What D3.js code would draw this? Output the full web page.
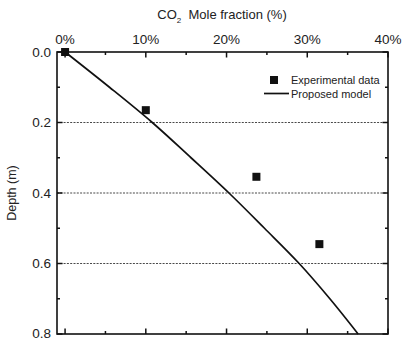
<!DOCTYPE html>
<html><head><meta charset="utf-8">
<script src="https://cdn.jsdelivr.net/npm/d3@7"></script>
<style>body{margin:0;background:#fff}svg{display:block;font-family:Arial,"Liberation Sans",sans-serif}</style>
</head><body><svg id="c" width="402" height="340"></svg>
<script>
const expFraction = [0, 10, 23.7, 31.5];
const expDepth = [0, 0.165, 0.354, 0.545];
const modelDepth = [0, 0.1, 0.2, 0.3, 0.4, 0.5, 0.6, 0.7, 0.8];
const modelFraction = [0, 5.5, 10.8, 15.6, 20.3, 24.7, 29.0, 32.8, 36.3];
const xTicks = [0, 10, 20, 30, 40];
const xMinor = [5, 15, 25, 35];
const yTicks = [0, 0.2, 0.4, 0.6, 0.8];
const yMinor = [0.1, 0.3, 0.5, 0.7];
const gridDepths = [0.2, 0.4, 0.6];

const svg = d3.select("#c");
const L = 57, R = 388, T = 52, B = 334;
const x = d3.scaleLinear().domain([-1, 40]).range([L, R]);
const y = d3.scaleLinear().domain([0, 0.8]).range([T, B]);

// grid
svg.selectAll(".grid").data(gridDepths).enter().append("line")
  .attr("x1", L).attr("x2", R).attr("y1", d => y(d)).attr("y2", d => y(d))
  .attr("stroke", "#333").attr("stroke-width", 0.9).attr("stroke-dasharray", "2,1.3");

function tickLines(vals, len, orient) {
  vals.forEach(v => {
    let l;
    if (orient === "top") l = [x(v), T, x(v), T + len];
    else if (orient === "bottom") l = [x(v), B, x(v), B - len];
    else if (orient === "left") l = [L, y(v), L + len, y(v)];
    else l = [R, y(v), R - len, y(v)];
    svg.append("line").attr("x1", l[0]).attr("y1", l[1]).attr("x2", l[2]).attr("y2", l[3])
      .attr("stroke", "#111").attr("stroke-width", 1.5);
  });
}
tickLines(xTicks, 5.5, "top"); tickLines(xMinor, 3, "top");
tickLines(xTicks, 5.5, "bottom"); tickLines(xMinor, 3, "bottom");
tickLines(yTicks, 5.5, "left"); tickLines(yMinor, 3, "left");
tickLines(yTicks, 5.5, "right"); tickLines(yMinor, 3, "right");

svg.append("rect").attr("x", L).attr("y", T).attr("width", R - L).attr("height", B - T)
  .attr("fill", "none").attr("stroke", "#111").attr("stroke-width", 1.6);

// tick labels
svg.selectAll(".xl").data(xTicks).enter().append("text")
  .attr("x", d => x(d)).attr("y", 44).attr("text-anchor", "middle")
  .attr("font-size", 13.5).attr("fill", "#222").text(d => d + "%");
svg.selectAll(".yl").data(yTicks).enter().append("text")
  .attr("x", 51).attr("y", d => Math.min(y(d) + 4.7, 337.5)).attr("text-anchor", "end")
  .attr("font-size", 13.5).attr("fill", "#222").text(d => d.toFixed(1));

// axis titles
const t = svg.append("text").attr("x", 222).attr("y", 19).attr("text-anchor", "middle")
  .attr("font-size", 13).attr("fill", "#222");
t.append("tspan").text("CO");
t.append("tspan").attr("font-size", 8).attr("dy", 4).text("2");
t.append("tspan").attr("dy", -4).text("  Mole fraction (%)").attr("xml:space", "preserve");
svg.append("text").attr("transform", `translate(16,${(T + B) / 2}) rotate(-90)`)
  .attr("text-anchor", "middle").attr("font-size", 12.5).attr("fill", "#222").text("Depth (m)");

// model line
const line = d3.line().x((d, i) => x(modelFraction[i])).y(d => y(d)).curve(d3.curveMonotoneY);
svg.append("path").datum(modelDepth).attr("d", line).attr("fill", "none")
  .attr("stroke", "#111").attr("stroke-width", 1.7);

// experimental points
const s = 8;
svg.selectAll(".pt").data(expDepth).enter().append("rect")
  .attr("x", (d, i) => x(expFraction[i]) - s / 2).attr("y", d => y(d) - s / 2)
  .attr("width", s).attr("height", s).attr("fill", "#111");

// legend
svg.append("rect").attr("x", 270).attr("y", 76).attr("width", s).attr("height", s).attr("fill", "#111");
svg.append("text").attr("x", 291).attr("y", 84).attr("font-size", 11).attr("fill", "#222").text("Experimental data");
svg.append("line").attr("x1", 264).attr("x2", 289).attr("y1", 93.5).attr("y2", 93.5)
  .attr("stroke", "#111").attr("stroke-width", 1.7);
svg.append("text").attr("x", 291).attr("y", 97.5).attr("font-size", 11).attr("fill", "#222").text("Proposed model");
</script></body></html>
